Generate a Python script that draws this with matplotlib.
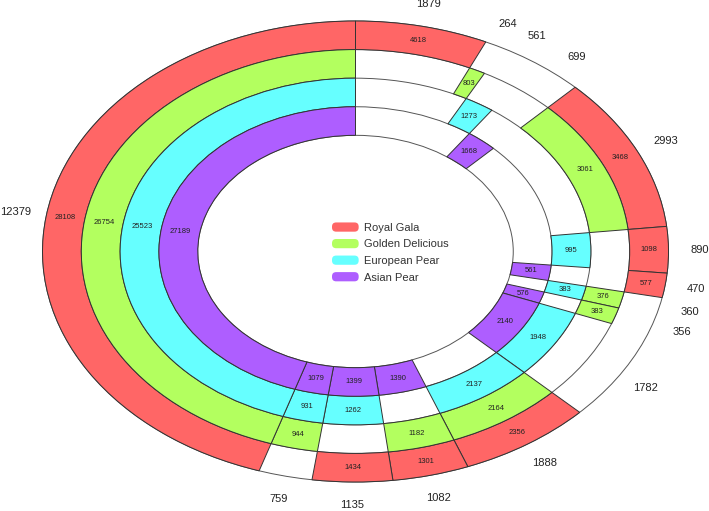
import matplotlib
matplotlib.use('Agg')
import matplotlib.pyplot as plt
import numpy as np
from matplotlib.patches import FancyBboxPatch, Patch, Circle
from matplotlib.legend_handler import HandlerPatch

plt.rcParams['font.family'] = ['Liberation Sans', 'DejaVu Sans']

# ---- data ----
sector_totals = [1879, 264, 561, 699, 2993, 890, 470, 360, 356, 1782, 1888, 1082, 1135, 759, 12379]
series_names = ['Royal Gala', 'Golden Delicious', 'European Pear', 'Asian Pear']
royal_gala = [4618, None, None, None, 3468, 1098, 577, None, None, None, 2356, 1301, 1434, None, 28108]
golden_delicious = [None, 803, None, None, 3061, None, None, 376, 383, None, 2164, 1182, None, 944, 26754]
european_pear = [None, None, 1273, None, None, 995, None, 383, None, 1948, 2137, None, 1262, 931, 25523]
asian_pear = [None, None, None, 1668, None, None, 561, None, 576, 2140, None, 1390, 1399, 1079, 27189]
series_colors = ['#FF6666', '#B3FF5F', '#66FFFF', '#AE5EFF']

series = [royal_gala, golden_delicious, european_pear, asian_pear]

# ---- figure ----
W, H = 709, 511
fig = plt.figure(figsize=(W / 100, H / 100), dpi=100)
ax = fig.add_axes([0, 0, 1, 1])

cx, cy, rx, ry = 355.5, 251.5, 313.0, 230.5   # layout (pixels)
ring_width = 0.124
outer_radii = [1.0, 0.876, 0.752, 0.628]
edge_col = '#333333'

# ring boundary arcs (visible through empty cells)
for r in outer_radii + [outer_radii[-1] - ring_width]:
    ax.add_patch(Circle((0, 0), r, fill=False, edgecolor='#555555', linewidth=0.7, zorder=1))

outer_wedges = None
for values, color, r in zip(series, series_colors, outer_radii):
    cols = [color if v is not None else 'none' for v in values]
    wedges, _ = ax.pie(sector_totals, radius=r, colors=cols, startangle=90,
                       counterclock=False,
                       wedgeprops=dict(width=ring_width, edgecolor=edge_col, linewidth=0.7))
    if outer_wedges is None:
        outer_wedges = wedges
    for w, v in zip(wedges, values):
        w.set_zorder(2)
        if v is None:
            w.set_edgecolor('none')
            continue
        mid = np.deg2rad((w.theta1 + w.theta2) / 2)
        rm = r - ring_width / 2
        ax.text(rm * np.cos(mid), rm * np.sin(mid), str(v), ha='center', va='center',
                fontsize=5.5, color='#222222', zorder=3)

for w, t in zip(outer_wedges, sector_totals):
    mid = np.deg2rad((w.theta1 + w.theta2) / 2)
    ax.text(1.1 * np.cos(mid), 1.1 * np.sin(mid), str(t), ha='center', va='center',
            fontsize=8, color='#222222')

ax.set_aspect('auto')
ax.set_xlim(-cx / rx, (W - cx) / rx)
ax.set_ylim(-(H - cy) / ry, cy / ry)
ax.axis('off')


class PillHandler(HandlerPatch):
    def create_artists(self, legend, orig_handle, xdescent, ydescent, width, height,
                       fontsize, trans):
        p = FancyBboxPatch((-xdescent, -ydescent), width, height,
                           boxstyle=f'round,pad=0,rounding_size={height * 0.45}',
                           facecolor=orig_handle.get_facecolor(), edgecolor='none',
                           transform=trans)
        return [p]


handles = [Patch(facecolor=c) for c in series_colors]
leg = ax.legend(handles, series_names, handler_map={Patch: PillHandler()},
                loc='center left', bbox_to_anchor=(332 / W, 1 - 252.5 / H),
                bbox_transform=fig.transFigure, frameon=False, fontsize=8,
                handlelength=2.4, handleheight=0.9, handletextpad=0.45,
                labelspacing=0.55, borderpad=0, borderaxespad=0)
for t in leg.get_texts():
    t.set_color('#333333')

fig.savefig('out.png', dpi=100)
